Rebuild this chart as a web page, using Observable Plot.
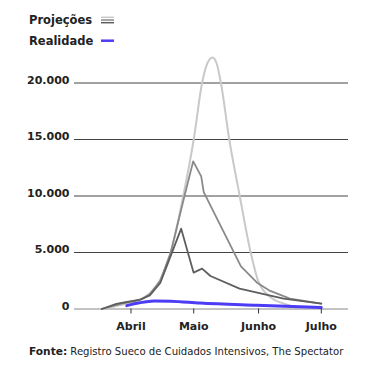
<!DOCTYPE html>
<html><head><meta charset="utf-8">
<script src="https://cdn.jsdelivr.net/npm/d3@7"></script>
<script src="https://cdn.jsdelivr.net/npm/@observablehq/plot@0.6"></script>
<style>
body{margin:0;background:#fff;font-family:"DejaVu Sans",sans-serif;color:#222;}
#wrap{position:relative;width:375px;height:371px;overflow:hidden;}
.leg{position:absolute;left:29px;font-weight:bold;font-size:11.5px;line-height:14px;white-space:nowrap;}
.sym{position:absolute;left:101px;}
#chart{position:absolute;left:0;top:50px;}
#cap{position:absolute;left:29px;top:345px;font-size:10.1px;line-height:13px;white-space:nowrap;}
#cap b{font-size:10.6px;}
</style></head><body>
<div id="wrap">
  <div class="leg" style="top:13px">Projeções</div>
  <svg class="sym" id="symP" style="top:15px" width="13" height="10"></svg>
  <div class="leg" style="top:34px">Realidade</div>
  <svg class="sym" id="symR" style="top:36px" width="13" height="10"></svg>
  <div id="chart"></div>
  <div id="cap"><b>Fonte:</b> Registro Sueco de Cuidados Intensivos, The Spectator</div>
</div>
<script>
// Projection 1 (light, bell curve)
const lightDates = ["2020-03-18","2020-03-27","2020-04-01","2020-04-06","2020-04-10","2020-04-15","2020-04-20","2020-04-26","2020-05-01","2020-05-05","2020-05-07","2020-05-10","2020-05-12","2020-05-14","2020-05-18","2020-05-23","2020-05-28","2020-06-01","2020-06-07","2020-06-13","2020-06-21","2020-06-27"];
const lightValues = [0,350,600,900,1400,2600,5000,10000,15000,20000,21500,22250,21700,20000,15000,10000,5200,2400,1000,480,120,40];

// Projection 2 (medium gray)
const mediumDates = ["2020-03-18","2020-03-27","2020-04-01","2020-04-06","2020-04-10","2020-04-15","2020-04-20","2020-04-26T14:00","2020-04-30T18:00","2020-05-04T14:00","2020-05-05T19:00","2020-05-23T14:00","2020-05-31T12:00","2020-06-06","2020-06-16","2020-07-01"];
const mediumValues = [0,450,650,850,1300,2500,5000,10000,13070,11740,10350,3780,2300,1650,920,480];

// Projection 3 (dark gray)
const darkDates = ["2020-03-18","2020-03-25","2020-03-30","2020-04-05","2020-04-10","2020-04-15","2020-04-20","2020-04-25","2020-04-30T22:00","2020-05-05","2020-05-09","2020-05-22T22:00","2020-06-13","2020-07-01"];
const darkValues = [0,450,620,800,1200,2300,4700,7110,3220,3575,2920,1800,920,480];

// Reality (blue)
const realDates = ["2020-03-30","2020-04-05","2020-04-12","2020-04-20","2020-05-04","2020-05-31","2020-07-01"];
const realValues = [300,550,710,690,530,330,130];

// Axis ticks and labels
const monthTicks = ["2020-04-01","2020-05-01","2020-06-01","2020-07-01"];
const monthLabels = ["Abril","Maio","Junho","Julho"];
const yTicks = [0,5000,10000,15000,20000];
const yTickLabels = ["0","5.000","10.000","15.000","20.000"];
const xDomain = ["2020-03-05","2020-07-14"];

const colors = {light:"#c9c9c9", medium:"#8a8a8a", dark:"#5e5e5e", real:"#4c3cf5"};

const toRows = (dates, values) => dates.map((d,i) => ({date: new Date(d + (d.length === 10 ? "T00:00Z" : "Z")), value: values[i]}));

const chart = Plot.plot({
  width: 375,
  height: 290,
  marginTop: 32.5,
  marginBottom: 31.5,
  marginLeft: 74,
  marginRight: 27,
  style: {fontFamily: "DejaVu Sans", fontSize: "11px", color: "#222", background: "transparent"},
  x: {type: "utc", domain: xDomain.map(d => new Date(d + "T00:00Z"))},
  y: {domain: [0, 20000]},
  marks: [
    Plot.ruleY(yTicks.filter(d => d > 0), {stroke: "#444", strokeWidth: 1}),
    Plot.ruleY([0], {stroke: "#888", strokeWidth: 1}),
    Plot.line(toRows(lightDates, lightValues), {x: "date", y: "value", stroke: colors.light, strokeWidth: 2, curve: "monotone-x"}),
    Plot.line(toRows(mediumDates, mediumValues), {x: "date", y: "value", stroke: colors.medium, strokeWidth: 1.8}),
    Plot.line(toRows(darkDates, darkValues), {x: "date", y: "value", stroke: colors.dark, strokeWidth: 1.8}),
    Plot.line(toRows(realDates, realValues), {x: "date", y: "value", stroke: colors.real, strokeWidth: 3, curve: "monotone-x"}),
    Plot.axisX(monthTicks.map(d => new Date(d + "T00:00Z")), {tickSize: 5, tickPadding: 8, stroke: "#333", tickFormat: (d, i) => monthLabels[i], fontWeight: "bold", label: null}),
    Plot.axisY(yTicks, {tickSize: 0, tickPadding: 5, dy: -3, tickFormat: (d, i) => yTickLabels[i], fontWeight: "bold", label: null})
  ]
});
document.getElementById("chart").appendChild(chart);

// Legend symbols
const symP = d3.select("#symP");
[[colors.light, 2.3], [colors.medium, 5], [colors.dark, 7.7]].forEach(([c, y]) => {
  symP.append("line").attr("x1", 0).attr("x2", 13).attr("y1", y).attr("y2", y).attr("stroke", c).attr("stroke-width", 1.5);
});
d3.select("#symR").append("line").attr("x1", 0).attr("x2", 13).attr("y1", 4.7).attr("y2", 4.7).attr("stroke", colors.real).attr("stroke-width", 2.5);
</script>
</body></html>
